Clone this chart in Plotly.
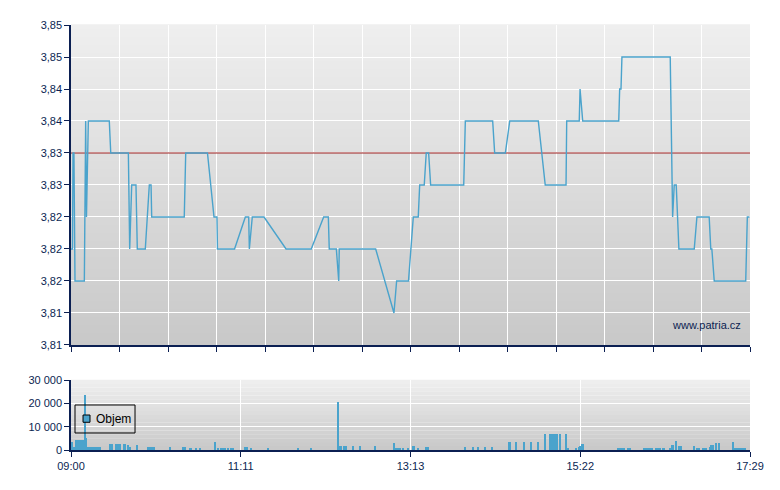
import plotly.graph_objects as go

# ---------------- data ----------------
# price trace: minutes after 09:00 and price (CZK)
price_minutes = [0, 1.1, 1.5, 2.2, 3.0, 10.0, 11.0, 11.6, 13.0, 28.7, 29.8, 43.0, 44.0, 45.5,
                 48.7, 49.7, 55.7, 57.2, 58.7, 60.0, 60.5, 84.9, 86.0, 102.3, 107.2, 109.4,
                 109.8, 122.6, 130.7, 133.2, 133.7, 135.9, 144.7, 161.2, 180.1, 189.4, 192.9,
                 193.6, 198.9, 200.7, 201.1, 228.4, 242.1, 244.1, 253.0, 256.6, 260.3, 261.4,
                 264.8, 266.3, 268.1, 269.6, 294.4, 295.6, 316.1, 317.6, 325.6, 328.9, 350.3,
                 355.5, 371.1, 371.6, 381.0, 381.6, 383.6, 410.6, 411.3, 412.3, 413.0, 449.2,
                 451.0, 452.2, 453.7, 455.7, 467.2, 469.2, 478.4, 479.6, 480.4, 482.2, 505.8,
                 507.0, 508.6]
price_values = [3.82, 3.82, 3.835, 3.835, 3.815, 3.815, 3.84, 3.825, 3.84, 3.84, 3.835, 3.835,
                3.82, 3.83, 3.83, 3.82, 3.82, 3.825, 3.83, 3.83, 3.825, 3.825, 3.835, 3.835,
                3.825, 3.825, 3.82, 3.82, 3.825, 3.825, 3.82, 3.825, 3.825, 3.82, 3.82, 3.825,
                3.825, 3.82, 3.82, 3.815, 3.82, 3.82, 3.81, 3.815, 3.815, 3.825, 3.825, 3.83,
                3.83, 3.835, 3.835, 3.83, 3.83, 3.84, 3.84, 3.835, 3.835, 3.84, 3.84, 3.83,
                3.83, 3.84, 3.84, 3.845, 3.84, 3.84, 3.845, 3.845, 3.85, 3.85, 3.825, 3.83,
                3.83, 3.82, 3.82, 3.825, 3.825, 3.82, 3.82, 3.815, 3.815, 3.825, 3.825]
previous_close = 3.835

# volume bars: minutes after 09:00 and traded volume
volume_minutes = [0.7, 1.5, 2.2, 3.4, 4.1, 4.9, 5.6, 6.4, 7.1, 7.9, 9.0, 9.7, 10.5, 11.2, 13.1,
                  14.6, 15.4, 16.1, 17.6, 18.4, 19.1, 19.9, 20.6, 21.4, 22.1,
                  28.9, 29.6, 30.4, 31.1, 34.1, 34.9, 35.6, 36.4, 37.1, 39.6, 40.3, 42.7, 44.6,
                  49.2, 58.1, 58.8, 59.6, 60.3, 61.1, 61.8, 62.6, 74.6, 84.3, 85.1, 85.8, 89.2,
                  89.9, 93.7, 96.7, 107.6, 108.3, 110.2, 112.4, 114.3, 115.4, 117.7, 120.0,
                  121.4, 130.8, 131.5, 132.3, 134.7, 147.7, 170.2, 179.9, 200.4, 201.0, 202.4,
                  205.0, 205.8, 211.6, 216.9, 228.1, 242.3, 244.0, 244.8, 245.5, 246.3, 247.0,
                  248.9, 252.6, 256.7, 257.5, 260.3, 266.3, 267.8, 295.6, 301.6, 305.3, 310.6,
                  315.8, 328.7, 329.4, 333.8, 339.7, 345.0, 350.3, 355.5, 359.3, 360.9, 361.7,
                  362.4, 363.9, 364.7, 366.8, 371.3, 372.8, 378.5, 381.0, 381.9, 383.4, 384.2,
                  409.7, 410.4, 411.2, 412.6, 414.1, 414.9, 417.2, 418.7, 429.2, 430.7, 432.9,
                  433.7, 434.4, 435.2, 438.9, 439.7, 441.9, 444.1, 444.9, 449.0, 450.9, 451.6,
                  453.5, 456.1, 456.9, 457.6, 467.4, 469.6, 471.1, 474.1, 475.6, 476.4, 479.4,
                  480.1, 481.3, 483.2, 483.9, 485.8, 496.6, 497.7, 498.9, 499.6, 500.4, 501.1,
                  501.9, 502.6, 504.1, 505.6]
volume_values = [3300, 1200, 1200, 4500, 4500, 4500, 4500, 4500, 4500, 4500, 4500, 4500, 23500,
                 5000, 1100,
                 1100, 1100, 1100, 1100, 1100, 1100, 1100, 1100, 1100, 1100,
                 2640, 2640, 2640, 2640, 2640, 2640, 2640, 2640, 2640, 2640, 2640, 2200, 1100,
                 2200, 1100, 1100, 1100, 1100, 1100, 1100, 1100, 1100, 1100, 1100, 1100, 800,
                 800, 550, 550, 3500, 3500, 800, 550, 800, 550, 550, 550,
                 550, 1100, 1100, 1100, 550, 550, 550, 550, 20600, 1800, 1800,
                 1800, 1800, 1800, 1800, 1800, 2900, 1000, 1000, 1000, 1000, 1000,
                 1000, 1000, 1800, 1800, 1000, 1400, 1400, 1400, 1400, 1400, 1400,
                 1400, 3500, 3500, 3500, 3500, 3500, 3500, 6800, 6800, 6800, 6800,
                 6800, 6800, 6800, 6800, 6800, 1000, 1000, 1400, 1800, 2600, 2600,
                 1000, 1000, 1000, 1000, 1000, 1000, 1000, 1000, 1000, 1000, 1000,
                 1000, 1000, 1000, 1000, 1000, 1000, 1000, 1000, 1000, 2200, 2200,
                 3900, 1800, 1800, 1800, 1800, 1000, 1000, 1000, 1000, 1000, 1400,
                 2200, 2200, 3000, 3000, 3000, 3500, 1000, 550, 550, 550, 550,
                 550, 550, 550, 550]

session_minutes = 509  # 09:00 -> 17:29
time_tick_labels = ["09:00", "11:11", "13:13", "15:22", "17:29"]
price_tick_labels = ["3,81", "3,81", "3,82", "3,82", "3,82", "3,83", "3,83", "3,84", "3,84", "3,85", "3,85"]
price_axis_min, price_axis_step = 3.805, 0.005
volume_tick_values = [0, 10000, 20000, 30000]
volume_tick_labels = ["0", "10 000", "20 000", "30 000"]
volume_series_name = "Objem"
watermark = "www.patria.cz"

# ---------------- style ----------------
NAVY = "#0b1f52"
BLUE = "#4aa3cc"
RED = "#9a1c1c"
FONT = "Liberation Sans, Arial, sans-serif"

fig = go.Figure()

fig.add_trace(go.Scatter(x=[0, session_minutes], y=[previous_close, previous_close], mode="lines",
                         line=dict(color=RED, width=1), showlegend=False, hoverinfo="skip",
                         xaxis="x", yaxis="y"))
fig.add_trace(go.Scatter(x=price_minutes, y=price_values, mode="lines",
                         line=dict(color=BLUE, width=1.4), showlegend=False,
                         xaxis="x", yaxis="y"))
fig.add_trace(go.Bar(x=volume_minutes, y=volume_values, width=0.8,
                     marker=dict(color=BLUE, line=dict(width=0)), showlegend=False,
                     xaxis="x2", yaxis="y2", name=volume_series_name))

# gradient backgrounds
shapes = []
def gradient(xref, yref, n, top=(239, 239, 239), bottom=(200, 200, 200)):
    for i in range(n):
        t = (i + 0.5) / n
        c = tuple(round(bottom[k] + (top[k] - bottom[k]) * t) for k in range(3))
        shapes.append(dict(type="rect", xref=xref, yref=yref, x0=0, x1=1,
                           y0=i / n, y1=(i + 1) / n + 0.002, layer="below",
                           line=dict(width=0), fillcolor="rgb(%d,%d,%d)" % c))
gradient("x domain", "y domain", 80)
gradient("x2 domain", "y2 domain", 18)

# legend box for the volume series (drawn inside the volume panel)
shapes.append(dict(type="rect", xref="x2 domain", yref="y2 domain", x0=0.0059, x1=0.0943,
                   y0=0.243, y1=0.643, line=dict(color="black", width=1),
                   fillcolor="rgba(0,0,0,0)", layer="above"))
shapes.append(dict(type="rect", xref="x2 domain", yref="y2 domain", x0=0.0177, x1=0.0280,
                   y0=0.396, y1=0.5, line=dict(color="black", width=1),
                   fillcolor=BLUE, layer="above"))

n_price_ticks = len(price_tick_labels)
price_ticks = [round(price_axis_min + i * price_axis_step, 4) for i in range(n_price_ticks)]
top_x_ticks = [session_minutes * i / 14 for i in range(15)]
bottom_x_ticks = [session_minutes * i / 4 for i in range(5)]

axis_common = dict(showline=True, linecolor=NAVY, linewidth=1.5, ticks="outside", ticklen=5,
                   tickcolor=NAVY, tickwidth=1, gridcolor="white", gridwidth=1.2,
                   zeroline=False, tickfont=dict(family=FONT, size=11, color=NAVY))

fig.update_layout(
    width=772, height=482,
    margin=dict(l=63, r=30, t=17, b=40),
    paper_bgcolor="white", plot_bgcolor="rgba(0,0,0,0)",
    shapes=shapes,
    xaxis=dict(domain=[0, 1], range=[0, session_minutes], tickvals=top_x_ticks,
               showticklabels=False, anchor="y", **axis_common),
    yaxis=dict(domain=[0.2471, 1], range=[price_ticks[0], price_ticks[-1]], tickvals=price_ticks,
               ticktext=price_tick_labels, anchor="x", **axis_common),
    xaxis2=dict(domain=[0, 1], range=[0, session_minutes], tickvals=bottom_x_ticks,
                ticktext=time_tick_labels, anchor="y2", **axis_common),
    yaxis2=dict(domain=[0, 0.1647], range=[0, 30000], tickvals=volume_tick_values,
                ticktext=volume_tick_labels, anchor="x2", **axis_common),
    showlegend=False,
    bargap=0,
    annotations=[
        dict(text=watermark, xref="paper", yref="paper",
             x=0.99, y=0.295, xanchor="right", yanchor="middle", showarrow=False,
             font=dict(family=FONT, size=11, color=NAVY)),
        dict(text=volume_series_name, xref="x2 domain", yref="y2 domain",
             x=0.0345, y=0.443, xanchor="left", yanchor="middle", showarrow=False,
             font=dict(family=FONT, size=12, color="black")),
    ],
)

fig.write_html("out.html")
